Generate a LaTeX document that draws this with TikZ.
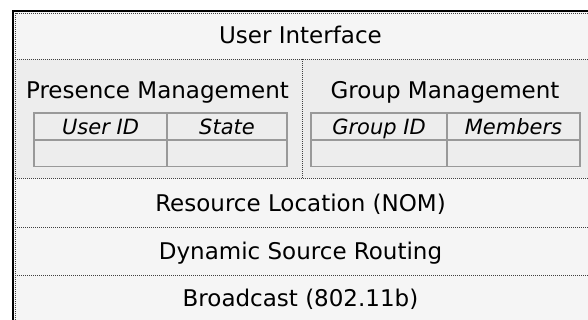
\documentclass[tikz,border=0pt]{standalone}
\usepackage{fontspec}
\setmainfont{DejaVu Sans}
\begin{document}
\begin{tikzpicture}[x=1pt,y=-1pt,
  lbl/.style={inner sep=0pt,anchor=base,font=\fontsize{23}{26}\selectfont},
  clbl/.style={inner sep=0pt,anchor=base,font=\itshape\fontsize{21}{24}\selectfont},
  sep/.style={draw=black!75,line width=0.8pt,dash pattern=on 1pt off 1pt},
  cell/.style={draw=black!40,line width=1.6pt,fill=black!7,inner sep=0pt},
]
\useasboundingbox (0,0) rectangle (588,320);
\fill[white] (0,0) rectangle (588,320);
% rows
\fill[black!4] (13,11) rectangle (590,59);
\fill[black!7] (13,59) rectangle (590,178);
\fill[black!4] (13,178) rectangle (590,322);
\node[lbl] (ui) at (300.5,43.3) {User Interface};
\node[lbl] (pm) at (157.5,99) {Presence Management};
\node[lbl] (gm) at (445,99) {Group Management};
\node[lbl] (rl) at (300.5,211.7) {Resource Location (NOM)};
\node[lbl] (dsr) at (300.5,259) {Dynamic Source Routing};
\node[lbl] (bc) at (300.5,306.5) {Broadcast (802.11b)};
% tables
\draw[cell] (34,113) rectangle (167,140);
\draw[cell] (167,113) rectangle (287,140);
\draw[cell] (34,140) rectangle (167,166.5);
\draw[cell] (167,140) rectangle (287,166.5);
\draw[cell] (311,113) rectangle (447,140);
\draw[cell] (447,113) rectangle (580,140);
\draw[cell] (311,140) rectangle (447,166.5);
\draw[cell] (447,140) rectangle (580,166.5);
\node[clbl] (uid) at (100.5,134.7) {User ID};
\node[clbl] (st) at (227,134.7) {State};
\node[clbl] (gid) at (379,134.7) {Group ID};
\node[clbl] (mem) at (513.5,134.7) {Members};
% separators
\draw[sep] (13,59) -- (590,59);
\draw[sep] (13,178) -- (590,178);
\draw[sep] (13,227) -- (590,227);
\draw[sep] (13,275) -- (590,275);
\draw[sep] (302,59) -- (302,178);
% outer frame
\draw[black,line width=2pt] (13,322) -- (13,11) -- (590,11);
\draw[sep] (15.5,322) -- (15.5,13.5) -- (590,13.5);
\end{tikzpicture}
\end{document}
